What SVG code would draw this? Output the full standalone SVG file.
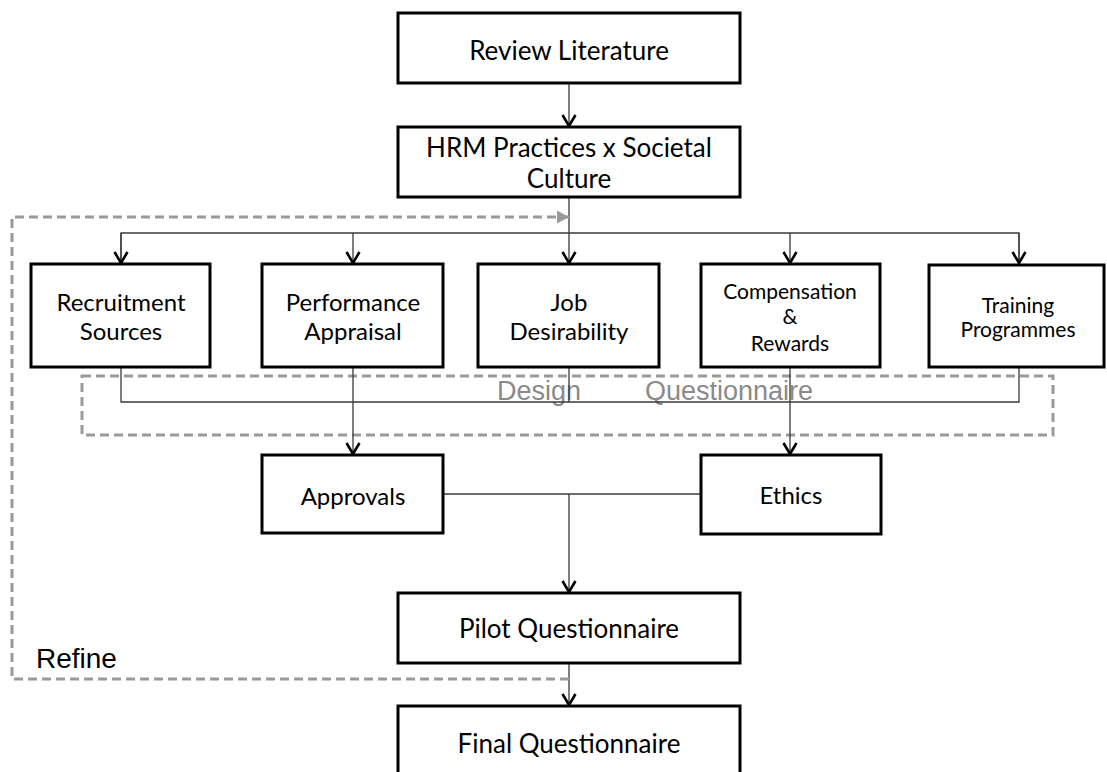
<svg xmlns="http://www.w3.org/2000/svg" width="1107" height="772" viewBox="0 0 1107 772">
<style>
.box{fill:#fff;stroke:#000;stroke-width:3}
.t{font-family:Lato,"Liberation Sans",sans-serif;fill:#000;text-anchor:middle}
.big{font-size:26px}
.mid{font-size:24px}
.sm{font-size:21px}
.ln{fill:none;stroke:#3a3a3a;stroke-width:1.3}
.dash{fill:none;stroke:#9a9a9a;stroke-width:3;stroke-dasharray:9 5}
.gl{font-family:"Liberation Sans",Arial,sans-serif;font-size:27px;fill:#8a8a8a}
</style>
<defs>
<marker id="ah" markerUnits="userSpaceOnUse" markerWidth="16" markerHeight="16" refX="12" refY="8" orient="auto">
<path d="M1,1.5 L12,8 L1,14.5" fill="none" stroke="#000" stroke-width="2.6"/>
</marker>
<marker id="gh" markerUnits="userSpaceOnUse" markerWidth="16" markerHeight="16" refX="13" refY="8" orient="auto">
<path d="M1,1.5 L13,8 L1,14.5 z" fill="#9a9a9a"/>
</marker>
</defs>
<g id="design-questionnaire">
<rect class="dash" x="82" y="376" width="971" height="59"/>
<text class="gl" x="497" y="400">Design</text>
<text class="gl" x="645" y="400">Questionnaire</text>
</g>
<g id="connectors">
<line class="ln" x1="569" y1="83" x2="569" y2="126" marker-end="url(#ah)"/>
<line class="ln" x1="569" y1="197" x2="569" y2="263" marker-end="url(#ah)"/>
<polyline class="ln" points="121,264 121,233 1019,233 1019,264"/>
<line class="ln" x1="121" y1="233" x2="121" y2="263" marker-end="url(#ah)"/>
<line class="ln" x1="353" y1="233" x2="353" y2="263" marker-end="url(#ah)"/>
<line class="ln" x1="790" y1="233" x2="790" y2="263" marker-end="url(#ah)"/>
<line class="ln" x1="1019" y1="233" x2="1019" y2="263" marker-end="url(#ah)"/>
<polyline class="ln" points="121,367 121,402 1019,402 1019,367"/>
<line class="ln" x1="569" y1="367" x2="569" y2="402"/>
<line class="ln" x1="353" y1="367" x2="353" y2="454" marker-end="url(#ah)"/>
<line class="ln" x1="790" y1="367" x2="790" y2="454" marker-end="url(#ah)"/>
<line class="ln" x1="443" y1="494" x2="701" y2="494"/>
<line class="ln" x1="569" y1="494" x2="569" y2="592" marker-end="url(#ah)"/>
<line class="ln" x1="569" y1="663" x2="569" y2="705" marker-end="url(#ah)"/>
<polyline class="dash" points="569,679 12,679 12,217 569,217" marker-end="url(#gh)"/>
</g>
<g id="refine-label"><text x="36" y="668" font-family="'Liberation Sans',Arial,sans-serif" font-size="28" fill="#000">Refine</text></g>
<g id="review-literature">
<rect class="box" x="398" y="13" width="342" height="70"/>
<text class="t big" x="569" y="60">Review Literature</text>
</g>
<g id="hrm-practices">
<rect class="box" x="398" y="127" width="342" height="70"/>
<text class="t big" x="569" y="157">HRM Practices x Societal</text>
<text class="t big" x="569" y="188">Culture</text>
</g>
<g id="recruitment-sources">
<rect class="box" x="31" y="264" width="179" height="103"/>
<text class="t mid" x="121" y="311">Recruitment</text>
<text class="t mid" x="121" y="340">Sources</text>
</g>
<g id="performance-appraisal">
<rect class="box" x="262" y="264" width="181" height="103"/>
<text class="t mid" x="353" y="311">Performance</text>
<text class="t mid" x="353" y="340">Appraisal</text>
</g>
<g id="job-desirability">
<rect class="box" x="478" y="264" width="181" height="103"/>
<text class="t mid" x="569" y="311">Job</text>
<text class="t mid" x="569" y="340">Desirability</text>
</g>
<g id="compensation-rewards">
<rect class="box" x="701" y="264" width="179" height="103"/>
<text class="t sm" x="790" y="299">Compensation</text>
<text class="t sm" x="790" y="324">&amp;</text>
<text class="t sm" x="790" y="351">Rewards</text>
</g>
<g id="training-programmes">
<rect class="box" x="929" y="265" width="175" height="102"/>
<text class="t sm" x="1018" y="313">Training</text>
<text class="t sm" x="1018" y="337">Programmes</text>
</g>
<g id="approvals">
<rect class="box" x="262" y="455" width="181" height="78"/>
<text class="t mid" x="353" y="505">Approvals</text>
</g>
<g id="ethics">
<rect class="box" x="701" y="455" width="180" height="79"/>
<text class="t mid" x="791" y="504">Ethics</text>
</g>
<g id="pilot-questionnaire">
<rect class="box" x="398" y="593" width="342" height="70"/>
<text class="t big" x="569" y="638">Pilot Questionnaire</text>
</g>
<g id="final-questionnaire">
<rect class="box" x="398" y="706" width="342" height="75"/>
<text class="t big" x="569" y="753">Final Questionnaire</text>
</g>
</svg>
